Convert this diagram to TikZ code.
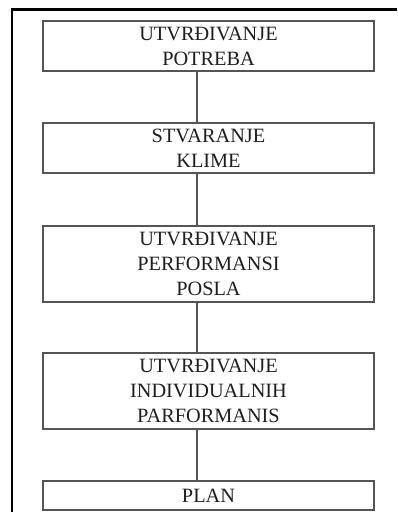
\documentclass[tikz,border=0pt]{standalone}
\usepackage{fontspec}
\setmainfont{Liberation Serif}
\usetikzlibrary{calc}
\definecolor{boxline}{RGB}{85,85,85}
\definecolor{txt}{RGB}{30,30,30}
\begin{document}
\begin{tikzpicture}[x=1pt,y=-1pt,
  stepbox/.style={draw=boxline,line width=1.3pt,minimum width=331pt,inner sep=0pt,
    align=center,text=txt,font=\fontsize{20.3}{25}\selectfont},
  conn/.style={draw=boxline,line width=1.3pt}]
\useasboundingbox (0,0) rectangle (397,512);
\draw[line width=2.2pt,black] (12,512) -- (12,9.5) -- (397,9.5);
\node[stepbox,minimum height=50pt] (b1) at (208.5,46) {UTVRĐIVANJE\\POTREBA};
\node[stepbox,minimum height=50pt] (b2) at (208.5,148) {STVARANJE\\KLIME};
\node[stepbox,minimum height=76pt] (b3) at (208.5,264) {UTVRĐIVANJE\\PERFORMANSI\\POSLA};
\node[stepbox,minimum height=76pt] (b4) at (208.5,391) {UTVRĐIVANJE\\INDIVIDUALNIH\\PARFORMANIS};
\node[stepbox,minimum height=29pt] (b5) at (208.5,495.5) {PLAN};
\coordinate (cx) at (197,0);
\draw[conn] (b1.south -| cx) -- (b2.north -| cx);
\draw[conn] (b2.south -| cx) -- (b3.north -| cx);
\draw[conn] (b3.south -| cx) -- (b4.north -| cx);
\draw[conn] (b4.south -| cx) -- (b5.north -| cx);
\end{tikzpicture}
\end{document}
